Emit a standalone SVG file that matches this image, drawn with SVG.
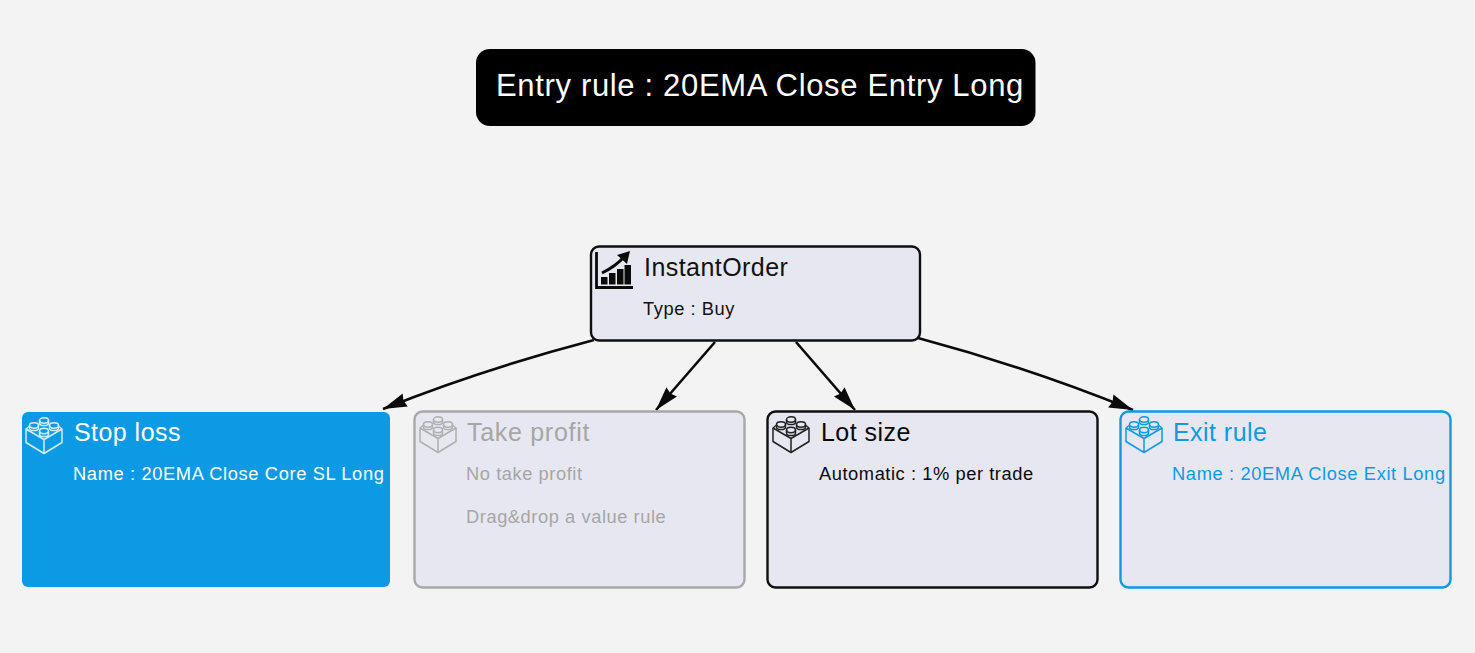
<svg xmlns="http://www.w3.org/2000/svg" width="1475" height="653" viewBox="0 0 1475 653">
<style>
text{font-family:"Liberation Sans",Arial,sans-serif}
.t{font-size:25px;letter-spacing:.45px}
.s{font-size:18.3px;letter-spacing:.56px}
.n{letter-spacing:.63px}
.w{letter-spacing:.7px}
.b{fill:#e7e7f1;stroke-width:2.4}
.c{fill:none;stroke:#0a0a0a;stroke-width:2.6;marker-end:url(#a)}
.i{fill:none;stroke-width:1.5;stroke-linejoin:round}
</style>
<defs>
<marker id="a" markerUnits="userSpaceOnUse" markerWidth="26" markerHeight="16" refX="24" refY="7" orient="auto"><path d="M0 0L24 7L0 14L2 7Z" fill="#0a0a0a"/></marker>
<g id="lego">
<path d="M4 10.500L1 13V26.500L19 37.500L37 26.500V13L34 10.500"/>
<path d="M1 13L19 23.500L37 13M19 23.500V37.500"/>
<path d="M14.500 4.500V7A4.500 2.600 0 0 0 23.500 7V4.500"/><ellipse cx="19" cy="4.500" rx="4.500" ry="2.700"/>
<path d="M4.500 9.500V12A4.500 2.600 0 0 0 13.500 12V9.500"/><ellipse cx="9" cy="9.500" rx="4.500" ry="2.700"/>
<path d="M24.500 9.500V12A4.500 2.600 0 0 0 33.500 12V9.500"/><ellipse cx="29" cy="9.500" rx="4.500" ry="2.700"/>
<path d="M14.500 15V18A4.500 2.600 0 0 0 23.500 18V15"/><ellipse cx="19" cy="15" rx="4.500" ry="2.700"/>
</g>
</defs>
<rect width="1475" height="653" fill="#f3f3f3"/>
<g id="connectors">
<path class="c" d="M594 340Q480 370 383 409"/>
<path class="c" d="M715 342L656 410"/>
<path class="c" d="M796 342L855 410"/>
<path class="c" d="M918 338Q1030 368 1133 410"/>
</g>
<g id="entry-rule">
<rect x="476" y="49" width="559.500" height="77" rx="14" fill="#000"/>
<text x="496" y="96" font-size="31" letter-spacing=".66" fill="#fff">Entry rule : 20EMA Close Entry Long</text>
</g>
<g id="instant-order">
<rect class="b" x="591" y="246.500" width="329" height="94" rx="8" stroke="#0f0f0f"/>
<path d="M596.500 252V287.500H633" fill="none" stroke="#0a0a0a" stroke-width="2.800"/>
<path d="M602 273Q616 266 624 257" fill="none" stroke="#0a0a0a" stroke-width="3"/>
<path d="M630 251L617 255L627 264Z" fill="#0a0a0a"/>
<path d="M601 277h6.500v7.500h-6.500zM609 273h6.500v11.500h-6.500zM617 269h6.500v15.500h-6.500zM624.500 265h6.500v19.500h-6.500z" fill="#0a0a0a"/>
<text class="t" x="644" y="276" fill="#111">InstantOrder</text>
<text class="s" x="643" y="315" fill="#111">Type : Buy</text>
</g>
<g id="stop-loss">
<rect x="22" y="412" width="368" height="175" rx="6" fill="#0d9ae4"/>
<use href="#lego" x="25" y="416" class="i" stroke="#d5eefb"/>
<text class="t" x="74" y="441" fill="#fff">Stop loss</text>
<text class="s n" x="73" y="480" fill="#fff">Name : 20EMA Close Core SL Long</text>
</g>
<g id="take-profit">
<rect class="b" x="414.500" y="411.500" width="330" height="176" rx="8" stroke="#a8a8a8"/>
<use href="#lego" x="419" y="415" class="i" stroke="#b0b0b0"/>
<text class="t w" x="467" y="441" fill="#a6a6a6">Take profit</text>
<text class="s" x="466" y="480" fill="#a6a6a6">No take profit</text>
<text class="s" x="466" y="523" fill="#a6a6a6">Drag&amp;drop a value rule</text>
</g>
<g id="lot-size">
<rect class="b" x="767.500" y="411.500" width="330" height="176" rx="8" stroke="#0f0f0f"/>
<use href="#lego" x="772" y="415" class="i" stroke="#222"/>
<text class="t" x="821" y="441" fill="#0a0a0a">Lot size</text>
<text class="s" x="819" y="480" fill="#0a0a0a">Automatic : 1% per trade</text>
</g>
<g id="exit-rule">
<rect class="b" x="1120.500" y="411.500" width="330" height="176" rx="8" stroke="#0d9ae4"/>
<use href="#lego" x="1125" y="415" class="i" stroke="#0d9ae4"/>
<text class="t" x="1173" y="441" fill="#0d9ae4">Exit rule</text>
<text class="s n" x="1172" y="480" fill="#0d9ae4">Name : 20EMA Close Exit Long</text>
</g>
</svg>
